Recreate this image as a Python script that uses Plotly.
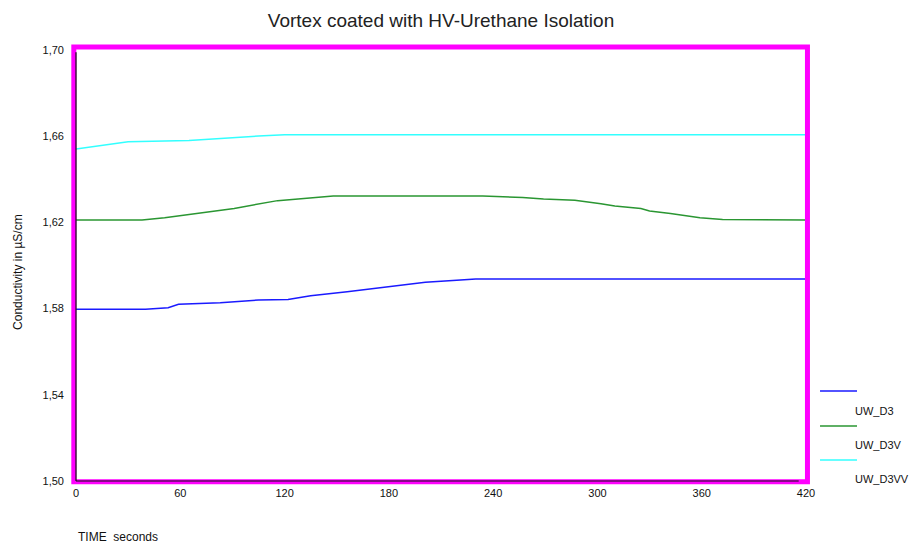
import plotly.graph_objects as go

# readings taken off the chart
names = ["UW_D3", "UW_D3V", "UW_D3VV"]
colors = ["#1a1aff", "#2a9632", "#33ffff"]

t_d3 = [0, 40, 53, 59, 83, 105, 122, 135, 156, 173, 183, 201, 219, 230, 420]
v_d3 = [1.5797, 1.5797, 1.5804, 1.5820, 1.5827, 1.5840, 1.5842, 1.5860,
        1.5878, 1.5894, 1.5902, 1.5922, 1.5931, 1.5937, 1.5937]

t_d3v = [0, 38, 51, 70, 91, 116, 139, 148, 234, 257, 269, 287, 302, 310,
         325, 330, 342, 353, 359, 372, 420]
v_d3v = [1.6211, 1.6211, 1.6222, 1.6242, 1.6265, 1.6301, 1.6316, 1.6322,
         1.6322, 1.6316, 1.6309, 1.6303, 1.6287, 1.6276, 1.6264, 1.6253,
         1.6241, 1.6230, 1.6222, 1.6213, 1.6211]

t_d3vv = [0, 16, 30, 65, 82, 105, 120, 420]
v_d3vv = [1.6541, 1.6559, 1.6574, 1.6580, 1.6590, 1.6601, 1.6607, 1.6607]

x_ticks = [0, 60, 120, 180, 240, 300, 360, 420]
y_ticks = [1.50, 1.54, 1.58, 1.62, 1.66, 1.70]

series = [(t_d3, v_d3), (t_d3v, v_d3v), (t_d3vv, v_d3vv)]

fig = go.Figure()
for (t, v), name, col in zip(series, names, colors):
    fig.add_trace(go.Scatter(x=t, y=v, mode="lines", name=name,
                             line=dict(color=col, width=1.5)))

tickfont = dict(family="Liberation Sans, Arial", size=11, color="#111")
fig.update_layout(
    width=916, height=546,
    margin=dict(l=76, r=110, t=50, b=65),
    paper_bgcolor="white", plot_bgcolor="white",
    separators=",.",
    showlegend=False,
    title=dict(text="Vortex coated with HV-Urethane Isolation",
               x=0.5, xref="paper", y=0.963, yanchor="middle",
               font=dict(family="Liberation Sans, Arial", size=19, color="#222")),
    xaxis=dict(range=[0, 420], tickvals=x_ticks, ticks="", showgrid=False,
               zeroline=False, tickfont=tickfont, ticklabelstandoff=4),
    yaxis=dict(range=[1.50, 1.70], tickvals=y_ticks, tickformat=".2f",
               ticks="", showgrid=False, zeroline=False, tickfont=tickfont,
               ticklabelstandoff=11),
)

# magenta frame with the black axis lines on left and bottom
fig.add_shape(type="rect", xref="paper", yref="paper", x0=-0.003, x1=1.002,
              y0=-0.002, y1=1.007, line=dict(color="#ff00ff", width=5))
fig.add_shape(type="line", xref="paper", yref="paper", x0=0, x1=0, y0=0, y1=0.995,
              line=dict(color="#111", width=1.2))
fig.add_shape(type="line", xref="paper", yref="paper", x0=0, x1=0.99, y0=0, y1=0,
              line=dict(color="#111", width=1.2))

# axis titles
fig.add_annotation(text="TIME  seconds", xref="paper", yref="paper", x=0, y=-0.13,
                   xanchor="left", yanchor="middle", showarrow=False,
                   font=dict(family="Liberation Sans, Arial", size=12, color="#111"))
fig.add_annotation(text="Conductivity in µS/cm", xref="paper", yref="paper",
                   x=-0.0795, y=0.485, xanchor="center", yanchor="middle",
                   textangle=-90, showarrow=False,
                   font=dict(family="Liberation Sans, Arial", size=12, color="#111"))

# legend drawn by hand: line sample above its label
line_y = [0.2088, 0.1276, 0.0487]
text_y = [0.1624, 0.0835, 0.0046]
for name, col, ly, ty in zip(names, colors, line_y, text_y):
    fig.add_shape(type="line", xref="paper", yref="paper", x0=1.0192, x1=1.0699,
                  y0=ly, y1=ly, line=dict(color=col, width=1.5))
    fig.add_annotation(text=name, xref="paper", yref="paper", x=1.0644, y=ty,
                       xanchor="left", yanchor="middle", showarrow=False,
                       font=dict(family="Liberation Sans, Arial", size=11, color="#111"))

fig.write_html("out.html", config={"displayModeBar": False},
               post_script="document.body.style.margin='0';")
